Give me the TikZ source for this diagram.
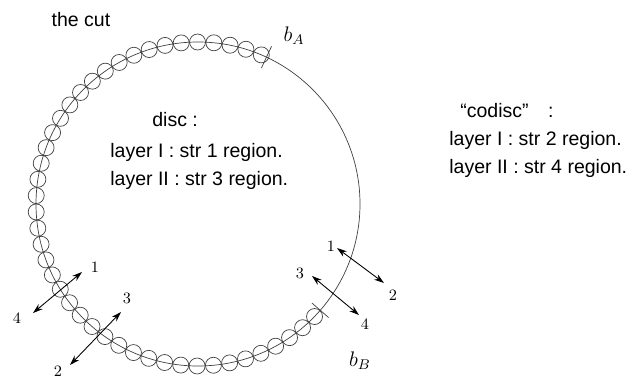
\documentclass[tikz,border=0pt]{standalone}
\usepackage{fontspec}
\usepackage{tikz}
\usetikzlibrary{arrows.meta, positioning, calc}
\newfontfamily\labelfont{Liberation Sans}
\newcommand{\reg}[2]{layer #1 : str #2 region.}

\begin{document}
\begin{tikzpicture}[
    txt/.style={font=\labelfont\fontsize{11.1}{13}\selectfont, inner sep=0pt},
    num/.style={font=\small, inner sep=0pt},
    bnd/.style={font=\fontsize{12}{14}\selectfont, inner sep=0pt},
    bead/.style={draw=black!75, line width=0.4pt},
    dbl/.style={{Stealth[length=2mm,width=1.3mm]}-{Stealth[length=2mm,width=1.3mm]}, line width=0.5pt}
]
\useasboundingbox (0,0) rectangle (12.56,7.70);
\coordinate (O) at (3.96,3.62);
% the boundary and the beads of the cut
\draw[bead] (O) circle (3.24);
\foreach \i in {0,...,43}
  \draw[bead] ($(O)+({67+\i*249/43}:3.24)$) circle (0.16);
\draw[bead] ($(O)+(65:3.00)$) -- ($(O)+(65:3.48)$);
\draw[bead] ($(O)+(-41:3.02)$) -- ($(O)+(-41:3.46)$);
\node[bnd] (bA) at (5.88,6.98) {$b_A$};
\node[bnd] (bB) at (7.20,0.48) {$b_B$};

% texts
\node[txt] (cut) at (1.62,7.31) {the cut};
\node[txt, anchor=west] (disc) at (3.04,5.30) {disc :};
\node[txt, anchor=west] (discI) at (2.20,4.66) {\reg{I}{1}};
\node[txt, anchor=west] (discII) at (2.20,4.10) {\reg{II}{3}};
\node[txt, anchor=west] (codisc) at (9.20,5.49) {“codisc”\hspace{1.0em}:};
\node[txt, anchor=west] (codiscI) at (8.98,4.90) {\reg{I}{2}};
\node[txt, anchor=west] (codiscII) at (8.98,4.34) {\reg{II}{4}};

% strand arrows, left side
\coordinate (l1) at (1.64,2.26);
\coordinate (l4) at (0.66,1.44);
\coordinate (l3) at (2.42,1.46);
\coordinate (l2) at (1.40,0.40);
\draw[dbl] (l4) -- (l1);
\draw[dbl] (l2) -- (l3);
\node[num] (nl1) at (1.90,2.36) {1};
\node[num] (nl4) at (0.34,1.34) {4};
\node[num] (nl3) at (2.54,1.74) {3};
\node[num] (nl2) at (1.16,0.28) {2};

% strand arrows, right side
\coordinate (r1) at (6.74,2.74);
\coordinate (r2) at (7.68,2.04);
\coordinate (r3) at (6.24,2.18);
\coordinate (r4) at (7.18,1.40);
\draw[dbl] (r1) -- (r2);
\draw[dbl] (r3) -- (r4);
\node[num] (nr1) at (6.62,2.78) {1};
\node[num] (nr2) at (7.86,1.80) {2};
\node[num] (nr3) at (6.00,2.24) {3};
\node[num] (nr4) at (7.30,1.22) {4};
\end{tikzpicture}
\end{document}
